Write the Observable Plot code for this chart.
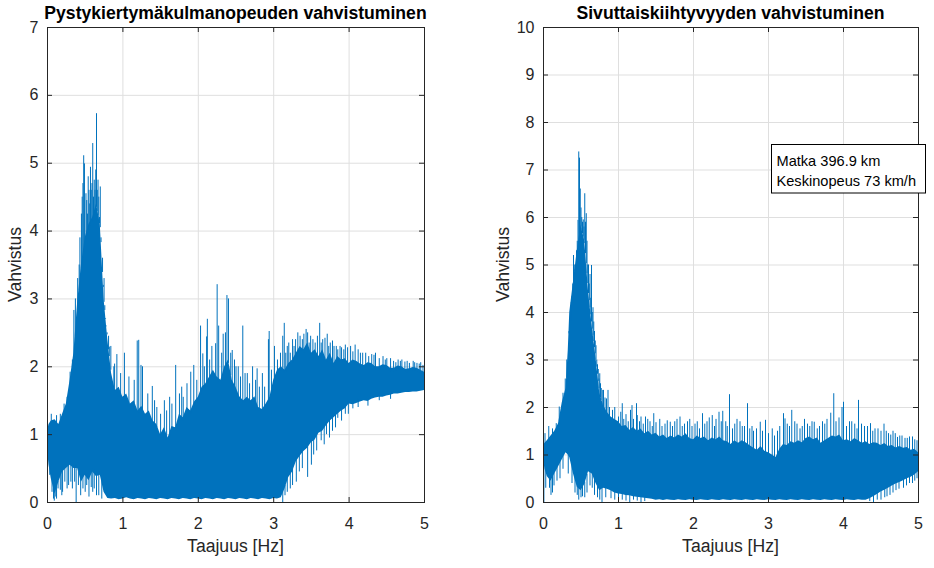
<!DOCTYPE html>
<html><head><meta charset="utf-8">
<script src="https://cdn.jsdelivr.net/npm/d3@7"></script>
<script src="https://cdn.jsdelivr.net/npm/@observablehq/plot@0.6"></script>
<style>
body{margin:0;background:#fff;}
#wrap{position:relative;width:934px;height:568px;overflow:hidden;}
#wrap svg{position:absolute;top:0;}
</style>
</head><body>
<div id="wrap"></div>
<script>
// ---------- data ----------
const xTicks = [0, 1, 2, 3, 4, 5];
const leftYTicks = [0, 1, 2, 3, 4, 5, 6, 7];
const rightYTicks = [0, 1, 2, 3, 4, 5, 6, 7, 8, 9, 10];

const leftTitle = "Pystykiertymäkulmanopeuden vahvistuminen";
const rightTitle = "Sivuttaiskiihtyvyyden vahvistuminen";
const xLabel = "Taajuus [Hz]";
const yLabel = "Vahvistus";
const noteLines = ["Matka 396.9 km", "Keskinopeus 73 km/h"];

// left panel: dense band of the noisy gain curve [frequency, upper edge, lower edge]
const leftBand = [
 [0,1.05,0.8],[0.02,1.15,0.55],[0.05,1.2,0.35],[0.1,1.22,0.12],[0.15,1.15,0.3],[0.2,1.3,0.45],[0.25,1.45,0.5],[0.3,1.8,0.55],[0.35,2.2,0.5],[0.4,2.95,0.5],
 [0.45,3.5,0.3],[0.5,3.9,0.4],[0.55,4.1,0.32],[0.6,4.2,0.45],[0.65,4.4,0.38],[0.7,4.1,0.4],[0.75,3.0,0.15],[0.8,2.4,0.06],[0.85,1.9,0.05],[0.9,1.65,0.06],
 [0.95,1.7,0.04],[1.0,1.55,0.05],[1.05,1.6,0.07],[1.1,1.45,0.05],[1.15,1.5,0.04],[1.2,1.35,0.06],[1.25,1.42,0.05],[1.3,1.3,0.04],[1.35,1.35,0.06],[1.4,1.2,0.05],
 [1.45,1.15,0.04],[1.5,1.0,0.06],[1.55,1.1,0.05],[1.6,0.95,0.04],[1.65,1.12,0.06],[1.7,1.1,0.05],[1.75,1.3,0.04],[1.8,1.25,0.06],[1.85,1.4,0.05],[1.9,1.35,0.04],
 [1.95,1.48,0.06],[2.0,1.55,0.05],[2.05,1.7,0.04],[2.1,1.75,0.06],[2.15,1.85,0.05],[2.2,1.95,0.04],[2.25,1.85,0.06],[2.3,1.8,0.05],[2.35,2.0,0.04],[2.4,2.1,0.06],
 [2.45,1.8,0.05],[2.5,1.7,0.04],[2.55,1.56,0.06],[2.6,1.5,0.05],[2.65,1.55,0.04],[2.7,1.5,0.06],[2.75,1.56,0.05],[2.8,1.4,0.04],[2.85,1.37,0.06],[2.9,1.45,0.05],
 [2.95,1.55,0.04],[3.0,1.8,0.06],[3.05,1.95,0.05],[3.1,2.0,0.07],[3.15,1.95,0.2],[3.2,2.05,0.37],[3.25,2.1,0.45],[3.3,2.2,0.6],[3.35,2.3,0.68],[3.4,2.25,0.75],
 [3.45,2.35,0.8],[3.5,2.2,0.88],[3.55,2.25,0.92],[3.6,2.15,1.02],[3.65,2.25,1.05],[3.7,2.1,1.13],[3.75,2.2,1.2],[3.8,2.05,1.25],[3.85,2.15,1.3],[3.9,2.1,1.35],
 [3.95,2.12,1.38],[4.0,2.05,1.45],[4.05,2.1,1.44],[4.1,2.08,1.46],[4.15,2.04,1.48],[4.2,2.02,1.5],[4.25,2.06,1.49],[4.3,2.05,1.52],[4.35,2.0,1.54],[4.4,2.0,1.55],
 [4.45,2.03,1.55],[4.5,2.02,1.57],[4.55,1.98,1.58],[4.6,1.98,1.6],[4.65,2.01,1.6],[4.7,2.0,1.61],[4.75,1.96,1.62],[4.8,1.97,1.62],[4.85,1.99,1.63],[4.9,1.98,1.63],
 [4.95,1.95,1.64],[5.0,1.92,1.65]
];
// left panel: peaks above the band [frequency, value]
const leftUp = [[0.05,1.3],[0.12,1.28],[0.17,1.3],[0.22,1.45],[0.26,1.55],[0.30,1.92],[0.33,2.1],[0.35,2.83],[0.37,3.0],[0.40,3.3],[0.42,3.5],[0.43,3.9],[0.45,4.25],[0.46,4.5],[0.47,4.7],[0.48,5.11],[0.49,4.99],[0.51,4.55],[0.52,4.45],[0.53,4.25],[0.54,4.8],[0.55,4.6],[0.56,4.4],[0.57,4.94],[0.58,4.6],[0.59,4.7],[0.60,5.29],[0.61,4.5],[0.62,4.75],[0.63,4.6],[0.64,4.9],[0.65,5.73],[0.66,4.6],[0.67,4.75],[0.68,4.5],[0.69,4.2],[0.70,4.65],[0.71,3.9],[0.73,3.6],[0.74,3.2],[0.75,3.3],[0.76,2.9],[0.77,2.7],[0.78,2.6],[0.79,2.5],[0.81,2.45],[0.82,2.29],[0.84,2.3],[0.88,2.0],[0.89,2.04],[0.92,2.18],[0.97,1.9],[1.02,2.2],[1.08,1.85],[1.15,1.8],[1.19,2.38],[1.21,2.39],[1.24,2.02],[1.26,2.0],[1.33,1.6],[1.39,1.71],[1.42,1.5],[1.45,1.4],[1.50,1.3],[1.55,1.5],[1.58,1.35],[1.62,1.55],[1.65,1.45],[1.70,2.02],[1.75,1.6],[1.78,1.7],[1.80,1.55],[1.85,1.75],[1.90,1.92],[1.94,2.02],[1.98,1.8],[2.03,2.6],[2.06,2.19],[2.08,2.0],[2.11,2.44],[2.12,2.7],[2.15,2.1],[2.18,2.3],[2.23,2.34],[2.25,3.21],[2.27,2.6],[2.31,2.2],[2.33,2.48],[2.36,2.5],[2.38,3.05],[2.40,3.0],[2.43,2.2],[2.45,2.24],[2.48,2.1],[2.50,2.0],[2.53,2.0],[2.56,1.85],[2.59,2.6],[2.62,1.9],[2.65,1.9],[2.68,1.75],[2.72,2.0],[2.76,1.8],[2.78,1.97],[2.81,1.7],[2.85,1.9],[2.88,1.7],[2.93,2.4],[2.94,2.52],[2.97,1.95],[3.01,2.3],[3.05,2.1],[3.09,2.2],[3.12,2.45],[3.14,2.64],[3.16,2.2],[3.18,2.3],[3.20,2.35],[3.22,2.2],[3.25,2.4],[3.27,2.3],[3.29,2.4],[3.32,2.5],[3.35,2.45],[3.38,2.4],[3.40,2.48],[3.43,2.55],[3.45,2.5],[3.47,2.35],[3.49,2.45],[3.52,2.4],[3.55,2.35],[3.58,2.45],[3.61,2.64],[3.63,2.35],[3.65,2.4],[3.68,2.42],[3.71,2.48],[3.73,2.3],[3.75,2.35],[3.78,2.38],[3.80,2.3],[3.83,2.3],[3.85,2.25],[3.88,2.3],[3.90,2.28],[3.93,2.25],[3.95,2.32],[3.98,2.28],[4.02,2.3],[4.05,2.22],[4.08,2.32],[4.12,2.25],[4.15,2.2],[4.18,2.2],[4.22,2.2],[4.26,2.15],[4.30,2.18],[4.33,2.17],[4.35,2.2],[4.40,2.12],[4.45,2.15],[4.48,2.1],[4.50,2.12],[4.55,2.12],[4.59,2.08],[4.62,2.06],[4.65,2.1],[4.68,2.08],[4.70,2.1],[4.74,2.07],[4.77,2.08],[4.80,2.05],[4.85,2.08],[4.87,2.06],[4.90,2.05],[4.93,2.04],[4.95,2.06],[4.98,2.02]];
// left panel: dips below the band [frequency, value]
const leftDown = [[0.03,0.4],[0.06,0.15],[0.08,0.05],[0.09,0.02],[0.11,0.08],[0.12,0.05],[0.14,0.2],[0.17,0.18],[0.19,0.1],[0.2,0.15],[0.23,0.3],[0.26,0.2],[0.28,0.25],[0.31,0.3],[0.33,0.2],[0.36,0.3],[0.38,0.0],[0.41,0.25],[0.44,0.1],[0.47,0.2],[0.5,0.15],[0.52,0.25],[0.55,0.08],[0.58,0.22],[0.6,0.15],[0.62,0.2],[0.65,0.1],[0.68,0.1],[0.72,0.05],[3.12,0.0],[3.15,0.1],[3.18,0.15],[3.22,0.2],[3.25,0.25],[3.3,0.3],[3.34,0.45],[3.38,0.5],[3.45,0.37],[3.5,0.55],[3.53,0.7],[3.57,0.76],[3.63,0.91],[3.67,0.85],[3.7,1.0],[3.74,0.95],[3.78,1.05],[3.82,1.1],[3.85,1.24],[3.9,1.2],[3.95,1.3],[3.99,1.3],[4.05,1.38],[4.12,1.4],[4.25,1.42],[4.4,1.5],[4.55,1.52]];

// right panel: dense band [frequency, upper edge, lower edge]
const rightBand = [
 [0,1.2,0.9],[0.02,1.25,0.7],[0.05,1.3,0.55],[0.1,1.4,0.45],[0.15,1.5,0.6],[0.2,1.66,0.75],[0.25,2.1,0.9],[0.3,2.4,1.05],[0.33,3.2,1.0],[0.35,4.0,0.95],
 [0.4,4.65,0.6],[0.45,5.3,0.32],[0.5,5.85,0.25],[0.55,5.5,0.38],[0.6,4.45,0.65],[0.65,3.7,0.6],[0.7,3.05,0.4],[0.75,2.3,0.25],[0.8,2.05,0.3],[0.85,1.9,0.28],
 [0.9,1.8,0.25],[0.95,1.75,0.2],[1.0,1.7,0.18],[1.05,1.6,0.17],[1.1,1.62,0.15],[1.15,1.52,0.14],[1.2,1.58,0.12],[1.25,1.5,0.11],[1.3,1.55,0.1],[1.35,1.45,0.09],
 [1.4,1.5,0.08],[1.45,1.42,0.07],[1.5,1.46,0.05],[1.55,1.38,0.06],[1.6,1.42,0.04],[1.65,1.35,0.06],[1.7,1.4,0.05],[1.75,1.36,0.04],[1.8,1.42,0.06],[1.85,1.38,0.05],
 [1.9,1.45,0.04],[1.95,1.35,0.06],[2.0,1.32,0.05],[2.05,1.4,0.04],[2.1,1.35,0.06],[2.15,1.38,0.05],[2.2,1.3,0.04],[2.25,1.36,0.06],[2.3,1.32,0.05],[2.35,1.38,0.04],
 [2.4,1.3,0.06],[2.45,1.28,0.05],[2.5,1.22,0.04],[2.55,1.3,0.06],[2.6,1.25,0.05],[2.65,1.3,0.04],[2.7,1.26,0.06],[2.75,1.2,0.05],[2.8,1.15,0.04],[2.85,1.1,0.06],
 [2.9,1.18,0.05],[2.95,1.08,0.04],[3.0,1.05,0.06],[3.05,1.0,0.05],[3.1,0.95,0.04],[3.15,1.12,0.06],[3.2,1.22,0.05],[3.25,1.2,0.04],[3.3,1.28,0.06],[3.35,1.25,0.05],
 [3.4,1.3,0.04],[3.45,1.26,0.06],[3.5,1.35,0.05],[3.55,1.38,0.04],[3.6,1.32,0.06],[3.65,1.36,0.05],[3.7,1.25,0.04],[3.75,1.3,0.06],[3.8,1.35,0.05],[3.85,1.4,0.04],
 [3.9,1.38,0.06],[3.95,1.42,0.05],[4.0,1.3,0.04],[4.05,1.32,0.06],[4.1,1.28,0.05],[4.15,1.35,0.04],[4.2,1.3,0.06],[4.25,1.25,0.05],[4.3,1.28,0.05],[4.35,1.22,0.08],
 [4.4,1.26,0.12],[4.45,1.25,0.17],[4.5,1.2,0.22],[4.55,1.24,0.26],[4.6,1.18,0.3],[4.65,1.2,0.35],[4.7,1.15,0.39],[4.75,1.18,0.42],[4.8,1.14,0.46],[4.85,1.16,0.5],
 [4.9,1.1,0.53],[4.95,1.12,0.58],[5.0,1.05,0.65]
];
const rightUp = [[0.02,1.45],[0.07,1.6],[0.12,1.55],[0.17,1.66],[0.21,2.01],[0.26,2.3],[0.29,2.6],[0.31,3.0],[0.34,3.6],[0.36,3.41],[0.37,3.8],[0.38,4.2],[0.39,4.6],[0.40,5.2],[0.41,5.0],[0.42,4.9],[0.43,4.74],[0.44,5.3],[0.45,5.5],[0.46,5.94],[0.47,7.38],[0.48,7.25],[0.49,6.6],[0.50,6.2],[0.51,6.0],[0.52,5.9],[0.53,5.95],[0.54,5.8],[0.55,6.5],[0.56,5.9],[0.57,6.08],[0.58,5.5],[0.59,5.0],[0.60,5.0],[0.61,4.6],[0.62,4.8],[0.63,4.3],[0.64,4.99],[0.65,4.0],[0.66,4.1],[0.67,3.8],[0.68,3.6],[0.69,3.4],[0.70,3.3],[0.71,3.0],[0.72,2.9],[0.73,2.8],[0.74,2.6],[0.75,2.71],[0.76,2.5],[0.77,2.4],[0.79,2.36],[0.80,2.36],[0.82,2.2],[0.84,2.18],[0.86,2.36],[0.88,2.0],[0.92,1.94],[0.95,2.0],[1.00,1.8],[1.03,1.9],[1.05,2.08],[1.07,1.75],[1.10,1.85],[1.13,1.7],[1.16,1.94],[1.18,2.04],[1.20,1.75],[1.24,2.08],[1.25,1.83],[1.28,1.7],[1.30,1.8],[1.33,1.65],[1.36,1.8],[1.39,1.75],[1.42,1.7],[1.45,1.6],[1.47,1.87],[1.50,1.68],[1.55,1.75],[1.58,1.6],[1.62,1.65],[1.65,1.72],[1.69,1.69],[1.72,1.6],[1.75,1.7],[1.78,1.75],[1.82,1.8],[1.85,1.6],[1.88,1.65],[1.92,1.7],[1.95,1.75],[1.98,1.6],[2.02,1.65],[2.05,1.7],[2.08,1.55],[2.12,1.87],[2.15,1.65],[2.18,1.7],[2.21,1.78],[2.25,1.83],[2.28,1.6],[2.30,1.75],[2.34,1.9],[2.37,1.7],[2.39,1.92],[2.43,1.7],[2.45,1.6],[2.48,2.27],[2.52,1.55],[2.55,1.65],[2.58,1.75],[2.62,1.7],[2.65,1.6],[2.68,1.6],[2.72,2.08],[2.75,1.55],[2.78,1.6],[2.80,1.5],[2.84,1.55],[2.89,1.69],[2.92,1.5],[2.96,1.73],[3.00,1.45],[3.05,1.55],[3.08,1.4],[3.12,1.5],[3.15,1.6],[3.20,1.87],[3.22,1.76],[3.25,1.65],[3.28,1.6],[3.31,1.94],[3.35,1.7],[3.38,1.65],[3.42,1.55],[3.45,1.6],[3.48,1.75],[3.52,1.65],[3.55,1.6],[3.58,1.7],[3.61,1.69],[3.65,1.55],[3.68,1.6],[3.72,1.7],[3.75,1.65],[3.78,1.75],[3.83,1.88],[3.87,2.29],[3.90,1.7],[3.94,1.78],[3.98,2.0],[4.00,2.11],[4.04,1.6],[4.08,1.7],[4.11,1.7],[4.15,1.65],[4.18,1.55],[4.20,2.15],[4.24,1.65],[4.28,1.6],[4.32,1.6],[4.36,1.66],[4.39,1.5],[4.42,1.55],[4.46,1.55],[4.50,1.5],[4.54,1.65],[4.57,1.5],[4.60,1.45],[4.63,1.42],[4.66,1.5],[4.69,1.45],[4.72,1.37],[4.75,1.4],[4.78,1.4],[4.82,1.35],[4.85,1.35],[4.88,1.38],[4.92,1.38],[4.95,1.32],[4.98,1.3]];
const rightDown = [[0.005,0.0],[0.03,0.3],[0.08,0.3],[0.1,0.15],[0.12,0.2],[0.14,0.35],[0.18,0.45],[0.22,0.5],[0.26,0.7],[0.33,0.6],[0.38,0.4],[0.42,0.2],[0.45,0.15],[0.47,0.05],[0.5,0.1],[0.52,0.12],[0.55,0.1],[0.58,0.2],[0.62,0.35],[0.65,0.3],[0.68,0.15],[0.72,0.1],[0.75,0.05],[0.78,0.0],[0.83,0.1],[0.9,0.08],[0.95,0.05],[1.0,0.02],[1.05,0.05],[1.1,0.03],[1.15,0.0],[1.2,0.05],[1.25,0.03],[1.3,0.0],[1.35,0.02],[4.35,0.02],[4.4,0.0],[4.45,0.05],[4.5,0.05],[4.55,0.1],[4.58,0.12],[4.62,0.15],[4.66,0.2],[4.7,0.25],[4.74,0.28],[4.8,0.3],[4.84,0.35],[4.88,0.4],[4.92,0.4],[4.95,0.45],[4.98,0.5]];

// ---------- drawing ----------
const FONT = "'Liberation Sans', Arial, Helvetica, sans-serif";
const BLUE = "#0072BD";
const INK = "#262626";
const GRID = "#dfdfdf";
const H = 568, MT = 27, MB = 66;

function panel(band, up, down, yMax, yTicks, marginLeft, plotW) {
  const F = band.map(d => d[0]);
  const hiAt = d3.scaleLinear().domain(F).range(band.map(d => d[1]));
  const loAt = d3.scaleLinear().domain(F).range(band.map(d => d[2]));
  const plotH = H - MT - MB;
  return Plot.plot({
    width: marginLeft + plotW + 16,
    height: H,
    marginLeft, marginRight: 16, marginTop: MT, marginBottom: MB,
    x: {domain: [0, 5]},
    y: {domain: [0, yMax]},
    style: {fontFamily: FONT, fontSize: "16px", color: INK, background: "transparent", overflow: "visible"},
    marks: [
      Plot.ruleX(xTicks, {stroke: GRID, strokeWidth: 1}),
      Plot.ruleY(yTicks, {stroke: GRID, strokeWidth: 1}),
      Plot.areaY(band, {x: d => d[0], y1: d => d[2], y2: d => d[1], fill: BLUE}),
      Plot.ruleX(up, {x: d => d[0], y1: d => hiAt(d[0]) - 0.05, y2: d => d[1], stroke: BLUE, strokeWidth: 1}),
      Plot.ruleX(down, {x: d => d[0], y1: d => loAt(d[0]) + 0.05, y2: d => d[1], stroke: BLUE, strokeWidth: 1}),
      Plot.frame({stroke: INK, strokeWidth: 1}),
      Plot.ruleX(xTicks, {stroke: INK, insetTop: plotH - 5}),
      Plot.ruleX(xTicks, {stroke: INK, insetBottom: plotH - 5}),
      Plot.ruleY(yTicks, {stroke: INK, insetRight: plotW - 5}),
      Plot.ruleY(yTicks, {stroke: INK, insetLeft: plotW - 5}),
      Plot.axisX({ticks: xTicks, tickSize: 0, tickPadding: 15, label: null, fontSize: 16, tickFormat: d => String(d)}),
      Plot.axisY({ticks: yTicks, tickSize: 0, tickPadding: 9, label: null, fontSize: 16, tickFormat: d => String(d)})
    ]
  });
}

const wrap = document.getElementById("wrap");
const left = panel(leftBand, leftUp, leftDown, 7, leftYTicks, 47, 377);
left.style.left = "0px";
wrap.appendChild(left);
const right = panel(rightBand, rightUp, rightDown, 10, rightYTicks, 53, 375);
right.style.left = "490px";
wrap.appendChild(right);

// overlay with titles, axis labels and the note box
const ov = d3.select(wrap).append("svg")
  .attr("width", 934).attr("height", 568)
  .style("left", "0px").style("pointer-events", "none")
  .style("font-family", FONT);

[[235.5, leftTitle], [730.5, rightTitle]].forEach(([cx, t]) => {
  ov.append("text").attr("x", cx).attr("y", 18.5).attr("text-anchor", "middle")
    .attr("font-weight", "bold").attr("font-size", 17.6).attr("fill", "#000").text(t);
  ov.append("text").attr("x", cx).attr("y", 552).attr("text-anchor", "middle")
    .attr("font-size", 17.6).attr("fill", INK).text(xLabel);
});
[[21, 264.5], [509, 264.5]].forEach(([x, y]) => {
  ov.append("text").attr("transform", `translate(${x},${y}) rotate(-90)`)
    .attr("text-anchor", "middle").attr("font-size", 17.6).attr("fill", INK).text(yLabel);
});
ov.append("rect").attr("x", 771.5).attr("y", 144.5).attr("width", 154).attr("height", 48.5)
  .attr("fill", "#fff").attr("stroke", "#000").attr("stroke-width", 1);
noteLines.forEach((t, i) => {
  ov.append("text").attr("x", 776.5).attr("y", 165.5 + i * 20.3)
    .attr("font-size", 14.6).attr("fill", "#000").text(t);
});
</script>
</body></html>
